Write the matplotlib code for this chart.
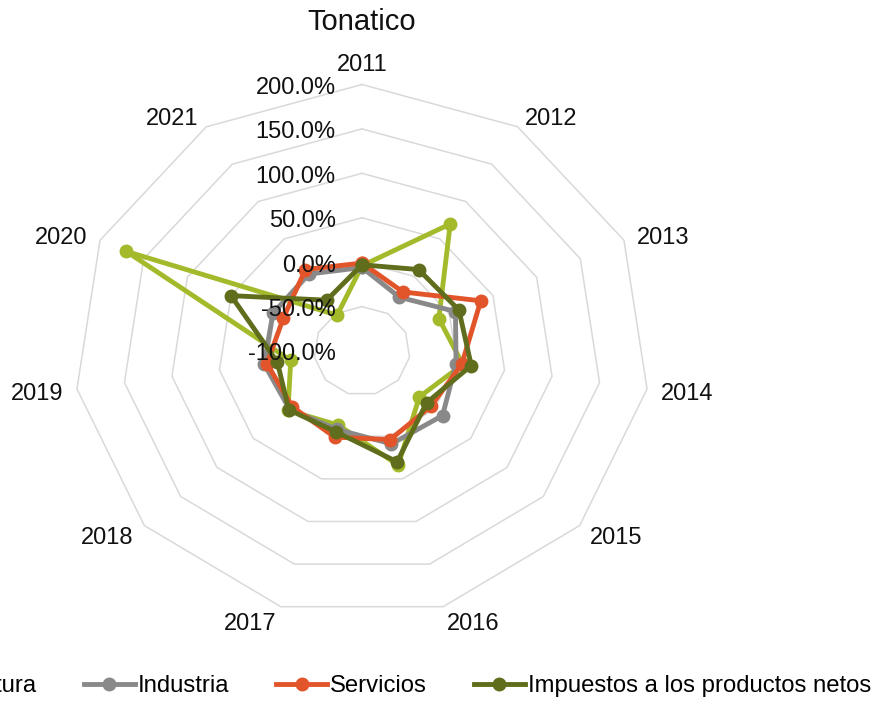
import numpy as np
import matplotlib
matplotlib.use("Agg")
import matplotlib.pyplot as plt

plt.rcParams['font.family'] = ['Liberation Sans', 'DejaVu Sans']

# Datos (variacion anual, %)
years = ["2011", "2012", "2013", "2014", "2015", "2016",
         "2017", "2018", "2019", "2020", "2021"]
agricultura = [-4, 70, -12, 6, -21, 34, -13, 2, -25, 170, -52]
industria = [-6, -28, 7, -1, 11, 9, -8, 0, 3, 2, 3]
servicios = [-1, -21, 36, 5, -5, 4, 1, -4, 0, -10, 9]
impuestos = [-3, 9, 11, 15, -11, 30, -5, 1, -11, 50, -32]
ring_values = [-50, 0, 50, 100, 150, 200]
tick_labels = ["-100.0%", "-50.0%", "0.0%", "50.0%", "100.0%", "150.0%", "200.0%"]

series = [("Agricultura", agricultura, "#A4BA2A"),
          ("Industria", industria, "#898989"),
          ("Servicios", servicios, "#E2552A"),
          ("Impuestos a los productos netos", impuestos, "#5F6D1C")]

W, H = 878, 701
fs = 17
fig = plt.figure(figsize=(W / 100, H / 100), dpi=100)

# the reference radar is a bit wider than tall
cx, cy, rx, ry = 362, 351, 288, 266.5
ax = fig.add_axes([(cx - rx) / W, (H - cy - ry) / H, 2 * rx / W, 2 * ry / H],
                  projection='polar')
ax.set_aspect('auto')
ax.set_theta_zero_location('N')
ax.set_theta_direction(-1)
ax.set_ylim(-100, 200)
ax.grid(False)
ax.spines['polar'].set_visible(False)
ax.set_xticks([])
ax.set_yticks([])
ax.patch.set_alpha(0)

n = len(years)
theta = np.arange(n) * 2 * np.pi / n
theta_c = np.append(theta, theta[0])

# polygon grid
for v in ring_values:
    ax.plot(theta_c, [v] * (n + 1), color="#D9D9D9", lw=1.1, zorder=1,
            clip_on=False)

for name, vals, col in series:
    v = np.append(vals, vals[0])
    ax.plot(theta_c, v, color=col, lw=3.5, marker='o', ms=9, label=name,
            zorder=3, clip_on=False)

# radial tick labels, left of the 2011 axis
for v, lab in zip([-100] + ring_values, tick_labels):
    ax.annotate(lab, xy=(0, v), xytext=(-19, -2.5), textcoords='offset points',
                ha='right', va='center', fontsize=fs, color='#111111',
                zorder=5)

# category labels
gap = 10
for t, lab in zip(theta, years):
    dx, dy = np.sin(t), np.cos(t)
    if abs(dx) < 0.05:
        ha, va = 'center', 'bottom'
        off = (0, 6)
    else:
        ha = 'left' if dx > 0 else 'right'
        va = 'center'
        off = (dx * gap, dy * gap - 2.5)
    ax.annotate(lab, xy=(t, 200), xytext=off,
                textcoords='offset points', ha=ha, va=va, fontsize=fs,
                color='#111111')

fig.text(cx / W, 1 - 30 / H, "Tonatico", ha='center', va='baseline',
         fontsize=21, color='#111111')

fig.legend(loc='center right', bbox_to_anchor=(871 / W, 1 - 686 / H),
           ncol=4, frameon=False, fontsize=17.2, handlelength=2.15,
           handletextpad=0.12, columnspacing=1.95, borderpad=0,
           borderaxespad=0)

fig.savefig("out.png", dpi=100)
